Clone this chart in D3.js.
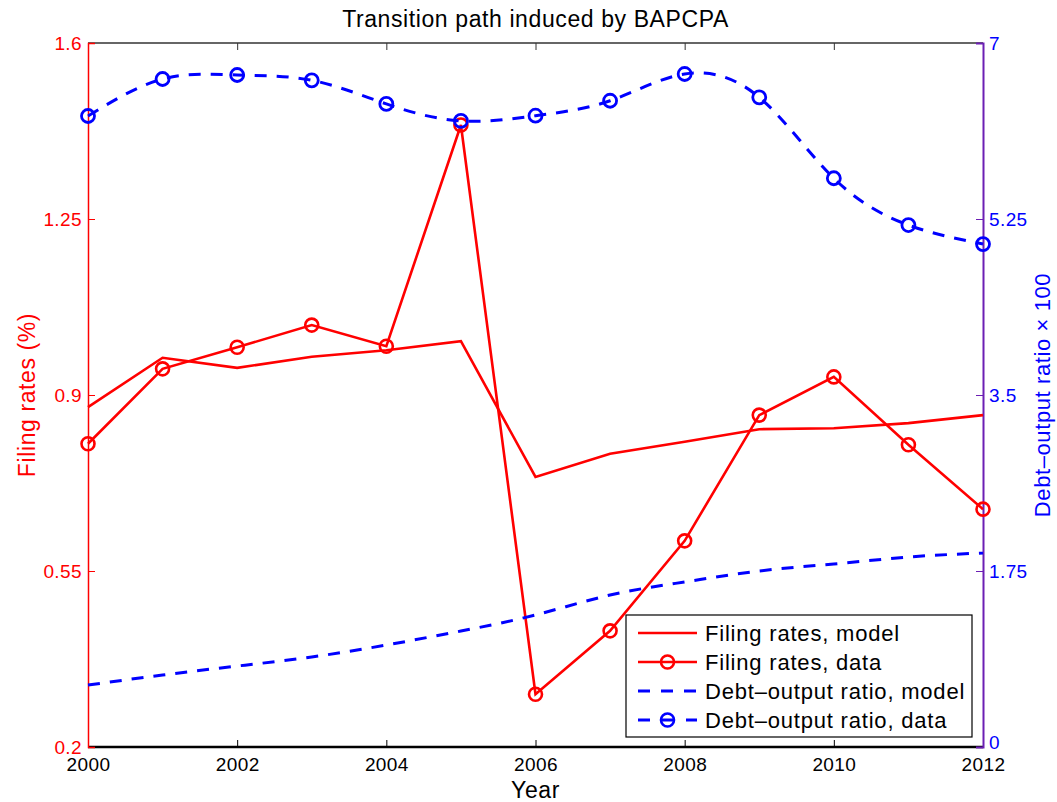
<!DOCTYPE html>
<html lang="en">
  <head>
    <meta charset="UTF-8" />
    <title>Transition path induced by BAPCPA</title>
    <script src="https://d3js.org/d3.v7.min.js"></script>
    <style>
      body {
        margin: 0;
        background: #ffffff;
        font-family: "Liberation Sans", Arial, sans-serif;
      }
      text {
        font-family: "Liberation Sans", Arial, sans-serif;
      }
      .tick-label {
        font-size: 19px;
        letter-spacing: 0.4px;
      }
      .legend-text {
        font-size: 22px;
        letter-spacing: 0.8px;
        fill: #000;
      }
      .label {
        font-size: 23px;
        letter-spacing: 0.6px;
      }
    </style>
  </head>
  <body>
    <div id="chart"></div>
    <script>
      const years = [2000, 2001, 2002, 2003, 2004, 2005, 2006, 2007, 2008, 2009, 2010, 2011, 2012];
      const filingModel = [0.876, 0.974, 0.954, 0.976, 0.989, 1.007, 0.737, 0.783, 0.807, 0.832, 0.834, 0.844, 0.86];
      const filingData = [0.803, 0.952, 0.995, 1.039, 0.997, 1.437, 0.305, 0.431, 0.61, 0.86, 0.936, 0.801, 0.673];
      const debtModel = [0.616, 0.716, 0.805, 0.895, 1.014, 1.153, 1.313, 1.511, 1.641, 1.75, 1.82, 1.889, 1.929];
      const debtData = [6.274, 6.642, 6.682, 6.629, 6.394, 6.225, 6.277, 6.426, 6.692, 6.46, 5.655, 5.19, 5.001];
      const xTicks = [2000, 2002, 2004, 2006, 2008, 2010, 2012];
      const leftTicks = [0.2, 0.55, 0.9, 1.25, 1.6];
      const rightTicks = [0, 1.75, 3.5, 5.25, 7];
      const legendLabels = [
        "Filing rates, model",
        "Filing rates, data",
        "Debt\u2013output ratio, model",
        "Debt\u2013output ratio, data",
      ];

      const W = 1057, H = 802;
      const margin = { top: 43, right: 74, bottom: 55, left: 88 };
      const width = W - margin.left - margin.right;
      const height = H - margin.top - margin.bottom;

      const RED = "#ff0000", BLUE = "#0000ff", PURPLE = "#6c1fb4";

      const svg = d3.select("#chart").append("svg")
        .attr("width", W).attr("height", H);
      const g = svg.append("g")
        .attr("transform", `translate(${margin.left},${margin.top})`);

      const x = d3.scaleLinear().domain([2000, 2012]).range([0, width]);
      const yL = d3.scaleLinear().domain([0.2, 1.6]).range([height, 0]);
      const yR = d3.scaleLinear().domain([0, 7]).range([height, 0]);

      // top border
      g.append("line").attr("x1", 0).attr("x2", width).attr("y1", 0).attr("y2", 0)
        .attr("stroke", "#333").attr("stroke-width", 1.5);

      // top ticks (inward)
      g.append("g")
        .call(d3.axisTop(x).tickValues(xTicks).tickSize(-7).tickFormat(""))
        .call(a => a.select(".domain").remove())
        .selectAll("line").attr("stroke", "#333");

      // bottom axis
      const bx = g.append("g")
        .attr("transform", `translate(0,${height})`)
        .call(d3.axisBottom(x).tickValues(xTicks).tickSize(-7).tickPadding(11).tickFormat(d3.format("d")));
      bx.select(".domain").remove();
      bx.selectAll("line").attr("stroke", "#000");
      bx.selectAll("text").attr("class", "tick-label").attr("fill", "#000");
      g.append("line").attr("x1", 0).attr("x2", width).attr("y1", height).attr("y2", height)
        .attr("stroke", "#000").attr("stroke-width", 2.5);

      // left axis
      const ly = g.append("g")
        .call(d3.axisLeft(yL).tickValues(leftTicks).tickSize(-7).tickPadding(6).tickFormat(d => d));
      ly.select(".domain").attr("stroke", RED).attr("stroke-width", 1.5);
      ly.selectAll("line").attr("stroke", RED);
      ly.selectAll("text").attr("class", "tick-label").attr("fill", RED);

      // right axis
      const ry = g.append("g")
        .attr("transform", `translate(${width},0)`)
        .call(d3.axisRight(yR).tickValues(rightTicks).tickSize(-7).tickPadding(6).tickFormat(d => d));
      ry.select(".domain").attr("stroke", PURPLE).attr("stroke-width", 2);
      ry.selectAll("line").attr("stroke", PURPLE);
      ry.selectAll("text").attr("class", "tick-label").attr("fill", BLUE);
      ry.selectAll(".tick").filter(d => d === 0).select("text").attr("dy", "0.1em");

      // labels
      svg.append("text").attr("class", "label").attr("x", margin.left + width / 2).attr("y", 27)
        .attr("text-anchor", "middle").text("Transition path induced by BAPCPA");
      svg.append("text").attr("class", "label").attr("x", margin.left + width / 2).attr("y", 798)
        .attr("text-anchor", "middle").text("Year");
      svg.append("text").attr("class", "label")
        .attr("transform", `translate(35,${margin.top + height / 2}) rotate(-90)`)
        .attr("text-anchor", "middle").attr("fill", RED)
        .text("Filing rates (%)");
      svg.append("text").attr("class", "label")
        .attr("transform", `translate(1050,${margin.top + height / 2}) rotate(-90)`)
        .attr("text-anchor", "middle").attr("fill", BLUE).style("font-size", "22px")
        .text("Debt\u2013output ratio \u00d7 100");

      // series
      const lineL = d3.line().x((d, i) => x(years[i])).y(d => yL(d));
      const lineRs = d3.line().x((d, i) => x(years[i])).y(d => yR(d)).curve(d3.curveNatural);

      g.append("path").datum(filingModel).attr("d", lineL)
        .attr("fill", "none").attr("stroke", RED).attr("stroke-width", 2.6);
      g.append("path").datum(filingData).attr("d", lineL)
        .attr("fill", "none").attr("stroke", RED).attr("stroke-width", 2.6);
      g.selectAll(".fd").data(filingData).enter().append("circle")
        .attr("cx", (d, i) => x(years[i])).attr("cy", d => yL(d)).attr("r", 6.5)
        .attr("fill", "none").attr("stroke", RED).attr("stroke-width", 2.6);

      g.append("path").datum(debtModel).attr("d", lineRs)
        .attr("fill", "none").attr("stroke", BLUE).attr("stroke-width", 3)
        .attr("stroke-dasharray", "12,10");
      g.append("path").datum(debtData).attr("d", lineRs)
        .attr("fill", "none").attr("stroke", BLUE).attr("stroke-width", 3)
        .attr("stroke-dasharray", "12,10");
      g.selectAll(".dd").data(debtData).enter().append("circle")
        .attr("cx", (d, i) => x(years[i])).attr("cy", d => yR(d)).attr("r", 6.5)
        .attr("fill", "none").attr("stroke", BLUE).attr("stroke-width", 2.8);

      // legend
      const lg = svg.append("g").attr("transform", "translate(626,615)");
      lg.append("rect").attr("width", 346).attr("height", 122)
        .attr("fill", "#fff").attr("stroke", "#000").attr("stroke-width", 1.2);
      const styles = [
        { c: RED, dash: null, mark: false },
        { c: RED, dash: null, mark: true },
        { c: BLUE, dash: "12,11", mark: false },
        { c: BLUE, dash: "12,11", mark: true },
      ];
      legendLabels.forEach((t, i) => {
        const yy = 18 + i * 29;
        const s = styles[i];
        if (s.dash && s.mark) {
          [[12, 24], [36, 47], [60, 71]].forEach(([a, b]) => {
            lg.append("line").attr("x1", a).attr("x2", b).attr("y1", yy).attr("y2", yy)
              .attr("stroke", s.c).attr("stroke-width", 3);
          });
        } else {
          lg.append("line").attr("x1", 12).attr("x2", 71).attr("y1", yy).attr("y2", yy)
            .attr("stroke", s.c).attr("stroke-width", s.dash ? 3 : 2.6)
            .attr("stroke-dasharray", s.dash);
        }
        if (s.mark) {
          lg.append("circle").attr("cx", 41.5).attr("cy", yy).attr("r", 6.5)
            .attr("fill", "none").attr("stroke", s.c).attr("stroke-width", 2.6);
        }
        lg.append("text").attr("class", "legend-text").attr("x", 79).attr("y", yy)
          .attr("dy", "0.35em").text(t);
      });
    </script>
  </body>
</html>
